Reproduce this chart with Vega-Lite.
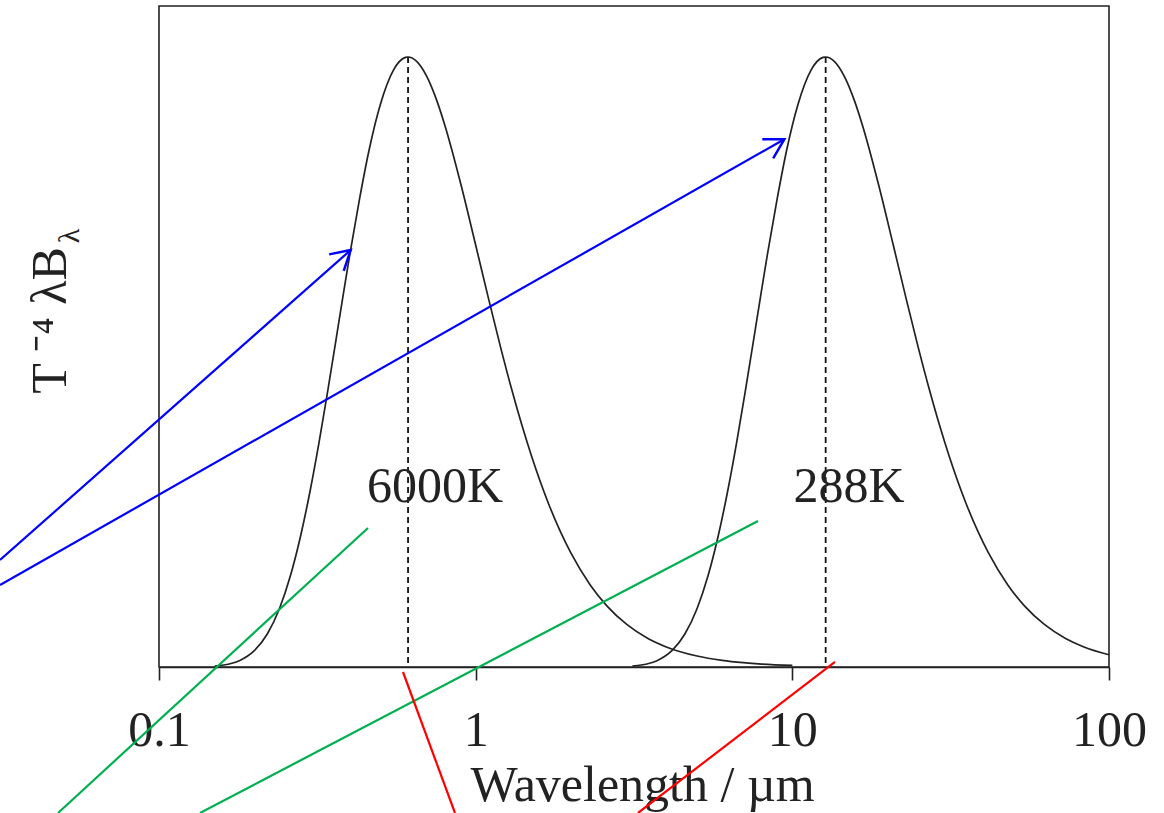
{
  "$schema": "https://vega.github.io/schema/vega-lite/v6.json",
  "width": 950,
  "height": 661,
  "autosize": {"type": "none"},
  "padding": {"left": 159, "top": 6, "right": 55, "bottom": 146},
  "background": "white",
  "config": {
    "view": {"stroke": "#222222", "strokeWidth": 1.6},
    "axis": {"grid": false}
  },
  "datasets": {
    "curves": [
      {"lambda": 0.15, "value": 0.0016, "curve": "6000K"},
      {"lambda": 0.16, "value": 0.0033, "curve": "6000K"},
      {"lambda": 0.17, "value": 0.0062, "curve": "6000K"},
      {"lambda": 0.18, "value": 0.0108, "curve": "6000K"},
      {"lambda": 0.19, "value": 0.0175, "curve": "6000K"},
      {"lambda": 0.2, "value": 0.0268, "curve": "6000K"},
      {"lambda": 0.22, "value": 0.0545, "curve": "6000K"},
      {"lambda": 0.24, "value": 0.0955, "curve": "6000K"},
      {"lambda": 0.26, "value": 0.1495, "curve": "6000K"},
      {"lambda": 0.28, "value": 0.2148, "curve": "6000K"},
      {"lambda": 0.3, "value": 0.2885, "curve": "6000K"},
      {"lambda": 0.32, "value": 0.3674, "curve": "6000K"},
      {"lambda": 0.34, "value": 0.4481, "curve": "6000K"},
      {"lambda": 0.36, "value": 0.5278, "curve": "6000K"},
      {"lambda": 0.38, "value": 0.604, "curve": "6000K"},
      {"lambda": 0.4, "value": 0.6749, "curve": "6000K"},
      {"lambda": 0.43, "value": 0.7678, "curve": "6000K"},
      {"lambda": 0.46, "value": 0.8459, "curve": "6000K"},
      {"lambda": 0.5, "value": 0.9222, "curve": "6000K"},
      {"lambda": 0.55, "value": 0.9786, "curve": "6000K"},
      {"lambda": 0.6, "value": 0.9993, "curve": "6000K"},
      {"lambda": 0.6116, "value": 1.0, "curve": "6000K"},
      {"lambda": 0.65, "value": 0.9934, "curve": "6000K"},
      {"lambda": 0.7, "value": 0.9687, "curve": "6000K"},
      {"lambda": 0.75, "value": 0.9317, "curve": "6000K"},
      {"lambda": 0.8, "value": 0.8873, "curve": "6000K"},
      {"lambda": 0.9, "value": 0.7893, "curve": "6000K"},
      {"lambda": 1.0, "value": 0.6917, "curve": "6000K"},
      {"lambda": 1.1, "value": 0.6022, "curve": "6000K"},
      {"lambda": 1.2, "value": 0.5232, "curve": "6000K"},
      {"lambda": 1.3, "value": 0.4548, "curve": "6000K"},
      {"lambda": 1.4, "value": 0.3962, "curve": "6000K"},
      {"lambda": 1.5, "value": 0.3463, "curve": "6000K"},
      {"lambda": 1.7, "value": 0.2673, "curve": "6000K"},
      {"lambda": 2.0, "value": 0.1866, "curve": "6000K"},
      {"lambda": 2.3, "value": 0.1346, "curve": "6000K"},
      {"lambda": 2.6, "value": 0.0999, "curve": "6000K"},
      {"lambda": 3.0, "value": 0.0698, "curve": "6000K"},
      {"lambda": 3.5, "value": 0.0468, "curve": "6000K"},
      {"lambda": 4.0, "value": 0.0329, "curve": "6000K"},
      {"lambda": 5.0, "value": 0.018, "curve": "6000K"},
      {"lambda": 6.0, "value": 0.0109, "curve": "6000K"},
      {"lambda": 7.0, "value": 0.0071, "curve": "6000K"},
      {"lambda": 8.0, "value": 0.0048, "curve": "6000K"},
      {"lambda": 10.0, "value": 0.0026, "curve": "6000K"},
      {"lambda": 3.125, "value": 0.0016, "curve": "288K"},
      {"lambda": 3.333, "value": 0.0033, "curve": "288K"},
      {"lambda": 3.542, "value": 0.0062, "curve": "288K"},
      {"lambda": 3.75, "value": 0.0108, "curve": "288K"},
      {"lambda": 3.958, "value": 0.0175, "curve": "288K"},
      {"lambda": 4.167, "value": 0.0268, "curve": "288K"},
      {"lambda": 4.583, "value": 0.0545, "curve": "288K"},
      {"lambda": 5.0, "value": 0.0955, "curve": "288K"},
      {"lambda": 5.417, "value": 0.1495, "curve": "288K"},
      {"lambda": 5.833, "value": 0.2148, "curve": "288K"},
      {"lambda": 6.25, "value": 0.2885, "curve": "288K"},
      {"lambda": 6.667, "value": 0.3674, "curve": "288K"},
      {"lambda": 7.083, "value": 0.4481, "curve": "288K"},
      {"lambda": 7.5, "value": 0.5278, "curve": "288K"},
      {"lambda": 7.917, "value": 0.604, "curve": "288K"},
      {"lambda": 8.333, "value": 0.6749, "curve": "288K"},
      {"lambda": 8.958, "value": 0.7678, "curve": "288K"},
      {"lambda": 9.583, "value": 0.8459, "curve": "288K"},
      {"lambda": 10.417, "value": 0.9222, "curve": "288K"},
      {"lambda": 11.458, "value": 0.9786, "curve": "288K"},
      {"lambda": 12.5, "value": 0.9993, "curve": "288K"},
      {"lambda": 12.742, "value": 1.0, "curve": "288K"},
      {"lambda": 13.542, "value": 0.9934, "curve": "288K"},
      {"lambda": 14.583, "value": 0.9687, "curve": "288K"},
      {"lambda": 15.625, "value": 0.9317, "curve": "288K"},
      {"lambda": 16.667, "value": 0.8873, "curve": "288K"},
      {"lambda": 18.75, "value": 0.7893, "curve": "288K"},
      {"lambda": 20.833, "value": 0.6917, "curve": "288K"},
      {"lambda": 22.917, "value": 0.6022, "curve": "288K"},
      {"lambda": 25.0, "value": 0.5232, "curve": "288K"},
      {"lambda": 27.083, "value": 0.4548, "curve": "288K"},
      {"lambda": 29.167, "value": 0.3962, "curve": "288K"},
      {"lambda": 31.25, "value": 0.3463, "curve": "288K"},
      {"lambda": 35.417, "value": 0.2673, "curve": "288K"},
      {"lambda": 41.667, "value": 0.1866, "curve": "288K"},
      {"lambda": 47.917, "value": 0.1346, "curve": "288K"},
      {"lambda": 54.167, "value": 0.0999, "curve": "288K"},
      {"lambda": 62.5, "value": 0.0698, "curve": "288K"},
      {"lambda": 72.917, "value": 0.0468, "curve": "288K"},
      {"lambda": 83.333, "value": 0.0329, "curve": "288K"},
      {"lambda": 100.0, "value": 0.0201, "curve": "288K"}
    ],
    "peaks": [
      {"lambda": 0.6116, "value": 1.0},
      {"lambda": 12.742, "value": 1.0}
    ],
    "labels": [
      {"lambda": 0.7437, "value": 0.2705, "label": "6000K"},
      {"lambda": 15.1, "value": 0.2705, "label": "288K"}
    ],
    "subscript": [
      {"lambda": 0.05236, "value": 0.7066, "label": "λ"}
    ],
    "notes": [
      {"lambda": 0.03147, "value": 0.1754, "note": "arrow", "seg": "b1"},
      {"lambda": 0.4031, "value": 0.6836, "note": "arrow", "seg": "b1"},
      {"lambda": 0.03147, "value": 0.1344, "note": "arrow", "seg": "b2"},
      {"lambda": 9.433, "value": 0.8651, "note": "arrow", "seg": "b2"},
      {"lambda": 0.04799, "value": -0.2393, "note": "link", "seg": "g1"},
      {"lambda": 0.4571, "value": 0.2279, "note": "link", "seg": "g1"},
      {"lambda": 0.1347, "value": -0.2393, "note": "link", "seg": "g2"},
      {"lambda": 7.79, "value": 0.2393, "note": "link", "seg": "g2"},
      {"lambda": 0.5895, "value": -0.0082, "note": "peak", "seg": "r1"},
      {"lambda": 0.8603, "value": -0.2393, "note": "peak", "seg": "r1"},
      {"lambda": 3.255, "value": -0.2393, "note": "peak", "seg": "r2"},
      {"lambda": 13.634, "value": 0.0082, "note": "peak", "seg": "r2"}
    ],
    "head1": [{"lambda": 0.4031, "value": 0.6836}],
    "head2": [{"lambda": 9.433, "value": 0.8651}]
  },
  "encoding": {
    "x": {
      "field": "lambda",
      "type": "quantitative",
      "scale": {"type": "log", "domain": [0.1, 100], "nice": false},
      "axis": {
        "values": [0.1, 1, 10, 100],
        "format": "~g",
        "labelFlush": false,
        "labelOverlap": false,
        "labelFont": "Liberation Serif",
        "labelFontSize": 50,
        "labelColor": "#222222",
        "labelBaseline": "alphabetic",
        "labelPadding": 65,
        "tickSize": 13,
        "tickWidth": 1.6,
        "tickColor": "#222222",
        "domainColor": "#222222",
        "domainWidth": 1.6,
        "title": "Wavelength / µm",
        "titleFont": "Liberation Serif",
        "titleFontSize": 50,
        "titleFontWeight": "normal",
        "titleColor": "#222222",
        "titleBaseline": "alphabetic",
        "titleAlign": "center",
        "titleX": 483,
        "titleY": 133
      }
    },
    "y": {
      "field": "value",
      "type": "quantitative",
      "scale": {"domain": [0, 1.0836], "nice": false, "zero": false},
      "axis": {
        "labels": false,
        "ticks": false,
        "domain": false,
        "title": "T ⁻⁴ λB",
        "titleFont": "Liberation Serif",
        "titleFontSize": 50,
        "titleFontWeight": "normal",
        "titleColor": "#222222",
        "titleAngle": 270,
        "titleAlign": "center",
        "titleBaseline": "alphabetic",
        "titleX": -94,
        "titleY": 314
      }
    }
  },
  "layer": [
    {
      "data": {"name": "curves"},
      "mark": {"type": "line", "color": "#222222", "strokeWidth": 1.7, "interpolate": "monotone", "clip": false},
      "encoding": {"detail": {"field": "curve"}}
    },
    {
      "data": {"name": "peaks"},
      "mark": {"type": "rule", "color": "#111111", "strokeWidth": 1.8, "strokeDash": [6, 4]},
      "encoding": {"y2": {"datum": 0}}
    },
    {
      "data": {"name": "labels"},
      "mark": {"type": "text", "font": "Liberation Serif", "fontSize": 50, "color": "#222222", "align": "center", "baseline": "alphabetic"},
      "encoding": {"text": {"field": "label"}}
    },
    {
      "data": {"name": "subscript"},
      "mark": {"type": "text", "font": "Liberation Serif", "fontSize": 30, "color": "#222222", "align": "center", "baseline": "middle", "angle": 270, "clip": false},
      "encoding": {"text": {"field": "label"}}
    },
    {
      "data": {"name": "notes"},
      "mark": {"type": "line", "strokeWidth": 2.2, "clip": false},
      "encoding": {
        "detail": {"field": "seg"},
        "color": {
          "field": "note",
          "type": "nominal",
          "scale": {"domain": ["arrow", "link", "peak"], "range": ["#0000ff", "#00b050", "#ff0000"]},
          "legend": null
        }
      }
    },
    {
      "data": {"name": "head1"},
      "mark": {"type": "point", "shape": "M-0.5,0.866L0,0L0.5,0.866", "filled": false, "stroke": "#0000ff", "strokeWidth": 2.5, "size": 1936, "angle": 48.5, "opacity": 1, "clip": false}
    },
    {
      "data": {"name": "head2"},
      "mark": {"type": "point", "shape": "M-0.5,0.866L0,0L0.5,0.866", "filled": false, "stroke": "#0000ff", "strokeWidth": 2.5, "size": 1936, "angle": 60.4, "opacity": 1, "clip": false}
    }
  ]
}
